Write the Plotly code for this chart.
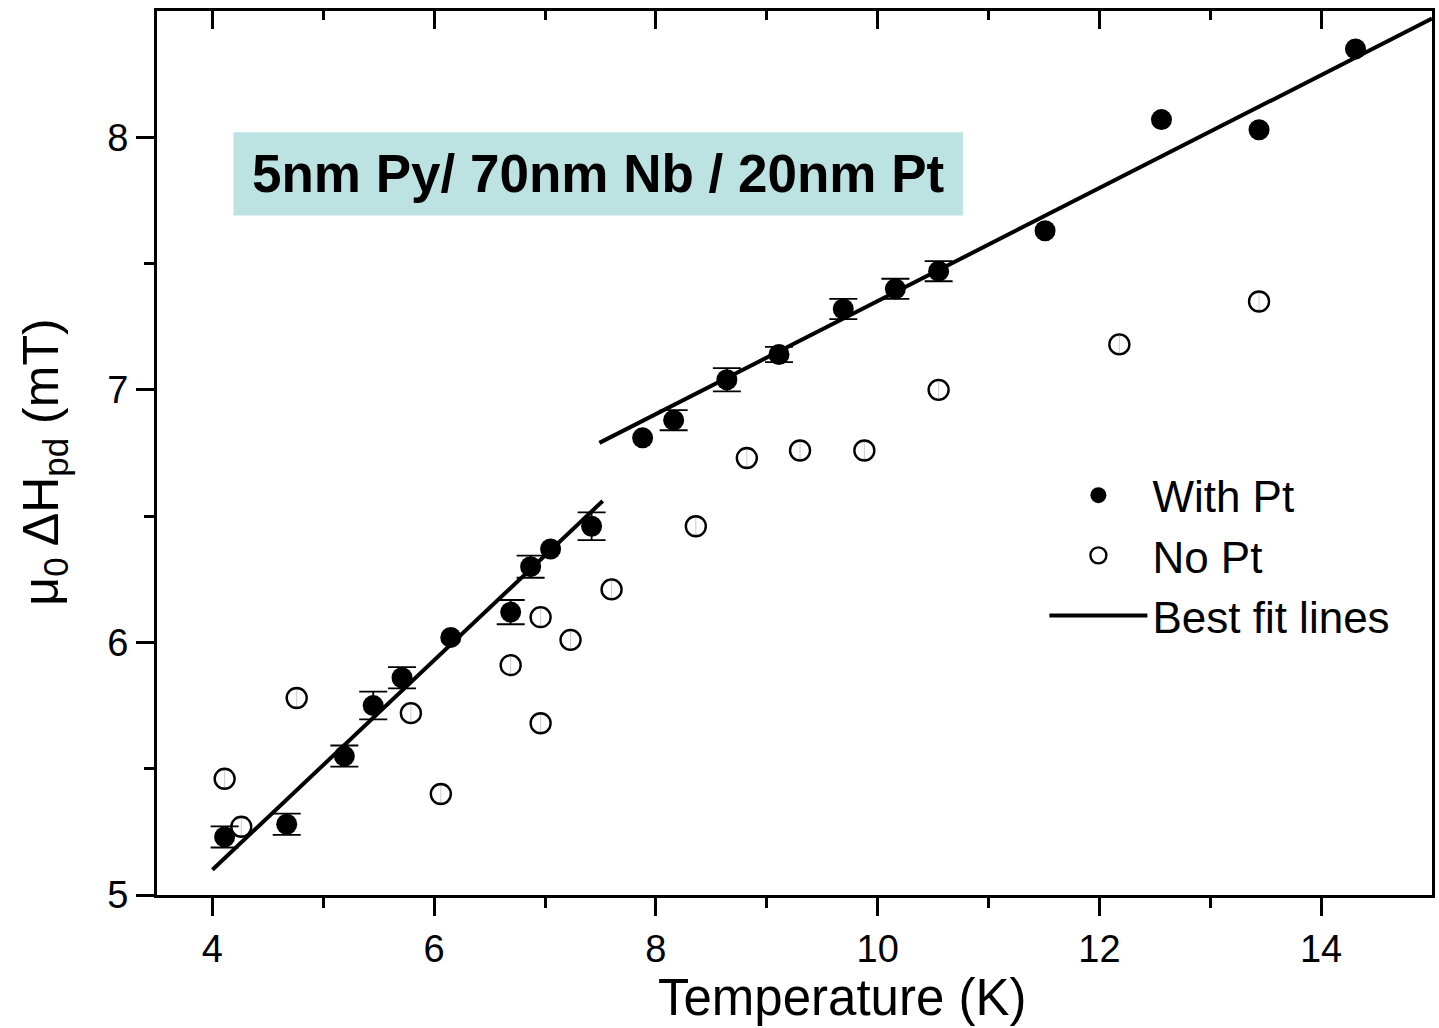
import plotly.graph_objects as go

# ---- data ----
with_pt_T = [4.11, 4.67, 5.19, 5.45, 5.71, 6.15, 6.69, 6.87, 7.05, 7.42, 7.88, 8.16,
             8.64, 9.11, 9.69, 10.16, 10.55, 11.51, 12.56, 13.44, 14.31]
with_pt_H = [5.23, 5.28, 5.55, 5.75, 5.86, 6.02, 6.12, 6.30, 6.37, 6.46, 6.81, 6.88,
             7.04, 7.14, 7.32, 7.40, 7.47, 7.63, 8.07, 8.03, 8.35]
# None = error smaller than the marker (not visible)
with_pt_err = [0.042, 0.042, 0.042, 0.055, 0.042, None, 0.048, 0.044, None, 0.055, None, 0.04,
               0.046, 0.03, 0.04, 0.04, 0.04, None, None, None, None]

no_pt_T = [4.11, 4.26, 4.76, 5.79, 6.06, 6.69, 6.96, 6.96, 7.23, 7.60, 8.36, 8.82,
           9.30, 9.88, 10.55, 12.18, 13.44]
no_pt_H = [5.46, 5.27, 5.78, 5.72, 5.40, 5.91, 6.10, 5.68, 6.01, 6.21, 6.46, 6.73,
           6.76, 6.76, 7.00, 7.18, 7.35]
no_pt_err = [0.034] * len(no_pt_T)

fit1_T = [4.0, 7.52]
fit1_H = [5.10, 6.56]
fit2_T = [7.49, 15.0]
fit2_H = [6.79, 8.47]

x_tick_vals = [4, 6, 8, 10, 12, 14]
y_tick_vals = [5, 6, 7, 8]

FONT = "Liberation Sans, Arial, sans-serif"

fig = go.Figure()

# error bars of the "With Pt" series (only where they are larger than the marker)
eb = [(t, h, e) for t, h, e in zip(with_pt_T, with_pt_H, with_pt_err) if e is not None]
fig.add_trace(go.Scatter(
    x=[p[0] for p in eb], y=[p[1] for p in eb], mode="markers", showlegend=False,
    marker=dict(size=1, color="rgba(0,0,0,0)"), hoverinfo="skip",
    error_y=dict(type="data", array=[p[2] for p in eb], color="black", thickness=1.8, width=14),
))
fig.add_trace(go.Scatter(
    x=with_pt_T, y=with_pt_H, mode="markers", name="With Pt",
    marker=dict(symbol="circle", size=21, color="black", line=dict(width=0)),
))
fig.add_trace(go.Scatter(
    x=no_pt_T, y=no_pt_H, mode="markers", name="No Pt",
    marker=dict(symbol="circle-open", size=20, color="black", line=dict(width=2.4)),
    error_y=dict(type="data", array=no_pt_err, color="rgba(0,0,0,0.35)", thickness=0.6, width=3),
))
fig.add_trace(go.Scatter(
    x=fit1_T, y=fit1_H, mode="lines", name="Best fit lines",
    line=dict(color="black", width=4),
))
fig.add_trace(go.Scatter(
    x=fit2_T, y=fit2_H, mode="lines", name="fit2", showlegend=False,
    line=dict(color="black", width=4),
))

# label box
fig.add_shape(type="rect", xref="x", yref="y", x0=4.19, x1=10.77, y0=7.69, y1=8.02,
              fillcolor="#bde2e2", line=dict(width=0), layer="below")
fig.add_annotation(x=7.48, y=7.855, xref="x", yref="y", showarrow=False,
                   text="<b>5nm Py/ 70nm Nb / 20nm Pt</b>",
                   font=dict(family=FONT, size=53, color="black"))

# axis titles placed as in the original
fig.add_annotation(x=0.537, y=-0.1154, xref="paper", yref="paper", showarrow=False,
                   xanchor="center", yanchor="middle", borderpad=0,
                   text="Temperature (K)",
                   font=dict(family=FONT, size=51, color="black"))
fig.add_annotation(x=-0.088, y=0.49, xref="paper", yref="paper", showarrow=False,
                   xanchor="center", yanchor="middle", textangle=-90,
                   text="μ<sub>0</sub> ΔH<sub>pd</sub> (mT)",
                   font=dict(family=FONT, size=50, color="black"))

fig.update_layout(
    width=1439, height=1028,
    margin=dict(l=157, r=4, t=11, b=133),
    paper_bgcolor="white", plot_bgcolor="white",
    font=dict(family=FONT, color="black"),
    showlegend=True,
    legend=dict(x=0.696, y=0.492, xanchor="left", yanchor="top",
                font=dict(family=FONT, size=44, color="black"),
                bgcolor="rgba(0,0,0,0)", itemwidth=98, tracegroupgap=0),
    xaxis=dict(
        range=[3.5, 15], tickvals=x_tick_vals, ticks="outside", ticklen=18, tickwidth=3,
        tickcolor="black", showline=True, linewidth=3, linecolor="black",
        showgrid=False, zeroline=False,
        tickfont=dict(family=FONT, size=38),
        minor=dict(tickvals=[5, 7, 9, 11, 13], ticks="outside", ticklen=10, tickwidth=3,
                   tickcolor="black", showgrid=False),
    ),
    xaxis2=dict(
        range=[3.5, 15], overlaying="x", side="top", tickvals=x_tick_vals,
        ticks="inside", ticklen=18, tickwidth=3, tickcolor="black", showticklabels=False,
        showline=True, linewidth=3, linecolor="black", showgrid=False, zeroline=False,
        minor=dict(tickvals=[5, 7, 9, 11, 13], ticks="inside", ticklen=9, tickwidth=3,
                   tickcolor="black", showgrid=False),
    ),
    yaxis=dict(
        range=[5, 8.5], tickvals=y_tick_vals, ticks="outside", ticklen=18, tickwidth=3,
        tickcolor="black", showline=True, linewidth=3, linecolor="black", mirror=True,
        showgrid=False, zeroline=False,
        tickfont=dict(family=FONT, size=38),
        minor=dict(tickvals=[5.5, 6.5, 7.5], ticks="outside", ticklen=10, tickwidth=3,
                   tickcolor="black", showgrid=False),
    ),
)
# dummy trace to activate xaxis2
fig.add_trace(go.Scatter(x=[], y=[], xaxis="x2", showlegend=False))

fig.write_html("out.html")
